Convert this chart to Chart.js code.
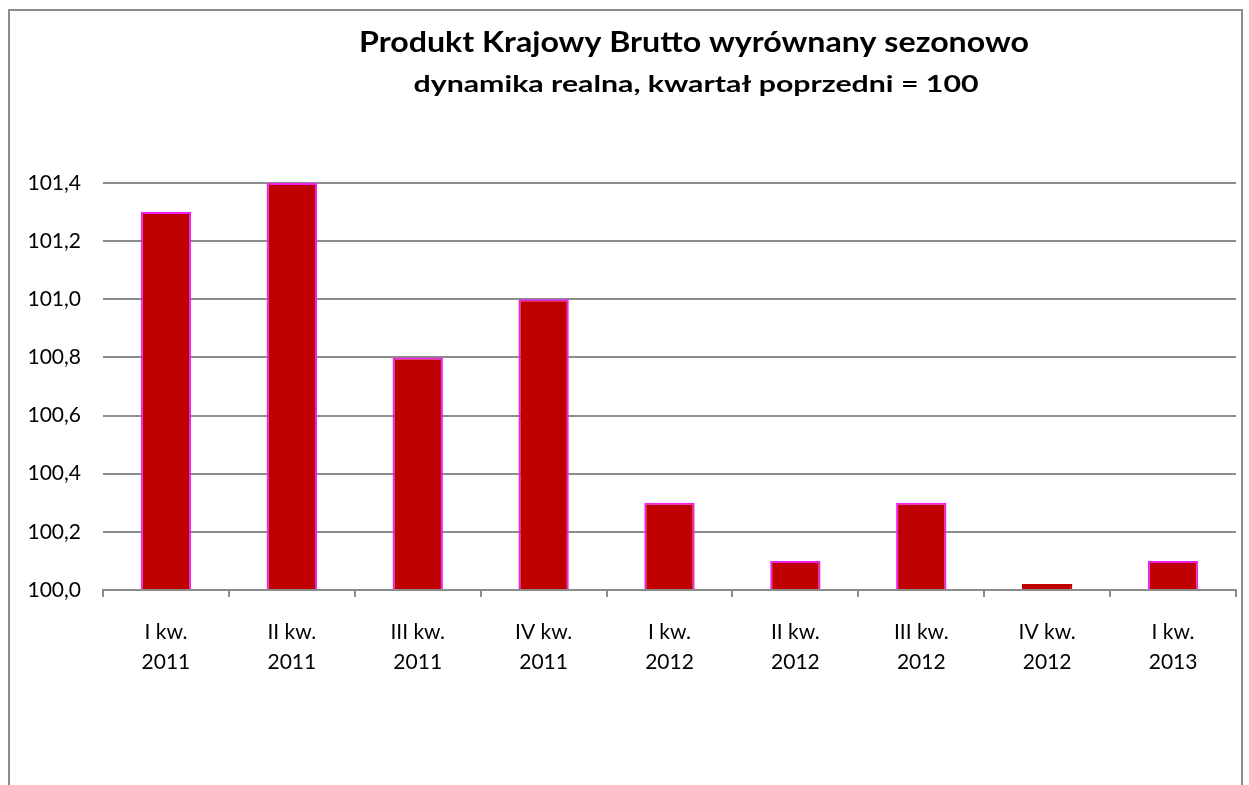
<!DOCTYPE html>
<html>
<head>
<meta charset="utf-8">
<script src="https://cdn.jsdelivr.net/npm/chart.js@4.4.0/dist/chart.umd.min.js"></script>
<style>
  html, body { margin: 0; padding: 0; background: #fff; overflow: hidden; }
  #frame {
    position: absolute; left: 8px; top: 9px;
    width: 1231px; height: 800px;
    border: 2px solid #8c8c8c; border-bottom: none;
  }
  #chartBox { position: absolute; left: 0; top: 0; width: 1229px; height: 774px; }
</style>
</head>
<body>
<div id="frame">
  <div id="chartBox"><canvas id="gdpChart"></canvas></div>
</div>
<script>
// dane z wykresu
var quarters = [
  ['I kw.', '2011'], ['II kw.', '2011'], ['III kw.', '2011'], ['IV kw.', '2011'],
  ['I kw.', '2012'], ['II kw.', '2012'], ['III kw.', '2012'], ['IV kw.', '2012'],
  ['I kw.', '2013']
]
var gdpValues = [101.3, 101.4, 100.8, 101.0, 100.3, 100.1, 100.3, 100.0, 100.1]
var yMin = 100.0
var yMax = 101.4
var yStep = 0.2
var titleText = 'Produkt Krajowy Brutto wyrównany sezonowo'
var subtitleText = 'dynamika realna, kwartał poprzedni = 100'

var fontName = 'Lato, "Open Sans", sans-serif'

// rysuje tekst wysrodkowany i rozciagniety do zadanej szerokosci
function drawWideText(ctx, text, cx, cy, width) {
  var w = ctx.measureText(text).width
  var sx = w < width ? width / w : 1
  ctx.save()
  ctx.translate(cx, cy)
  ctx.scale(sx, 1)
  ctx.fillText(text, 0, 0)
  ctx.restore()
}

// tytul rysowany recznie, bo w oryginale jest przesuniety w prawo
var titlePlugin = {
  id: 'titlePlugin',
  afterDraw: function(chart) {
    var ctx = chart.ctx
    ctx.save()
    ctx.fillStyle = '#000'
    ctx.textAlign = 'center'
    ctx.textBaseline = 'middle'
    ctx.font = 'bold 29px ' + fontName
    drawWideText(ctx, titleText, 684, 32, 670)
    ctx.font = 'bold 23px ' + fontName
    drawWideText(ctx, subtitleText, 686, 74, 565)
    ctx.restore()
  }
}

var ctx = document.getElementById('gdpChart')
var gdpChart = new Chart(ctx, {
  type: 'bar',
  data: {
    labels: quarters,
    datasets: [{
      data: gdpValues,
      base: yMin,
      backgroundColor: '#C00000',
      borderColor: function(c) {
        return c.raw === yMin ? '#C00000' : '#EE22EE'
      },
      borderWidth: 2,
      borderSkipped: 'start',
      minBarLength: 6,
      barPercentage: 0.4,
      categoryPercentage: 1.0
    }]
  },
  options: {
    responsive: true,
    maintainAspectRatio: false,
    animation: false,
    layout: { padding: { top: 172, left: 0, right: 3, bottom: 0 } },
    plugins: {
      legend: { display: false },
      tooltip: { enabled: false },
      title: { display: false }
    },
    scales: {
      x: {
        afterFit: function(scale) { scale.height = 195 },
        grid: {
          offset: true,
          drawOnChartArea: false,
          drawTicks: true,
          tickLength: 7,
          color: '#8c8c8c',
          lineWidth: 2
        },
        border: { display: true, color: '#8c8c8c', width: 2 },
        ticks: {
          color: '#000',
          padding: 20,
          maxRotation: 0,
          autoSkip: false,
          font: { family: fontName, size: 21, lineHeight: 1.45 }
        }
      },
      y: {
        min: yMin,
        max: yMax,
        afterFit: function(scale) { scale.width = 93 },
        grid: {
          drawTicks: false,
          color: '#8c8c8c',
          lineWidth: 2
        },
        border: { display: false },
        ticks: {
          stepSize: yStep,
          color: '#000',
          padding: 22,
          font: { family: fontName, size: 21 },
          callback: function(value) {
            return Number(value).toFixed(1).replace('.', ',')
          }
        }
      }
    }
  },
  plugins: [titlePlugin]
})
</script>
</body>
</html>
